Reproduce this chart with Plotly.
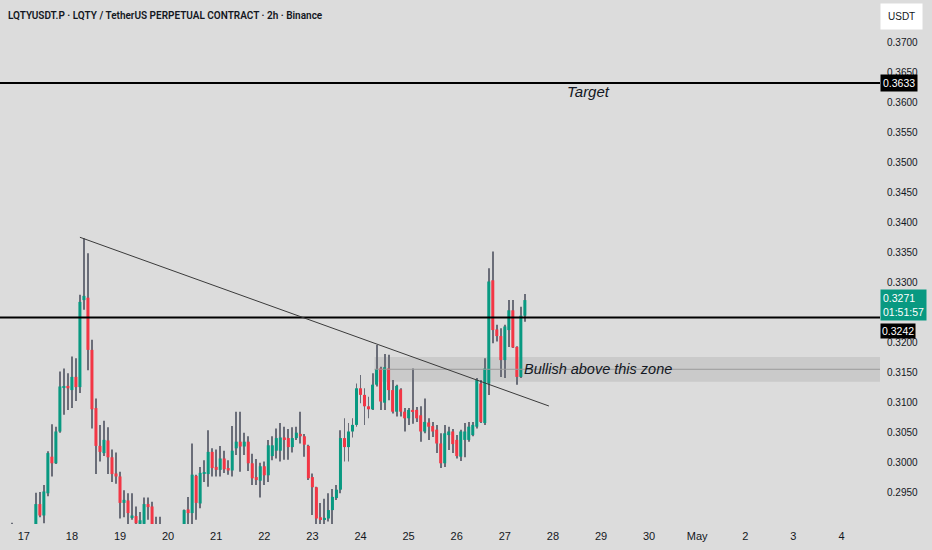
import pandas as pd
import plotly.graph_objects as go

# 2h candles, first one opens Apr 16 14:00 (index -5 relative to Apr 17 00:00)
start = "2024-04-16 14:00"
opens = [0.2880, 0.2885, 0.2878, 0.2886, 0.2870, 0.2875, 0.2868, 0.2880,
         0.2885, 0.2931, 0.2912, 0.2949, 0.3010, 0.2999, 0.3052, 0.3126, 0.3128, 0.3121,
         0.3143, 0.3126, 0.3271, 0.3275, 0.3188, 0.3091, 0.3028, 0.3016, 0.3037, 0.3009,
         0.2982, 0.2977, 0.2933, 0.2937, 0.2909, 0.2911, 0.2898, 0.2898, 0.2931, 0.2927,
         0.2895, 0.2888, 0.2880, 0.2872, 0.2868, 0.2875, 0.2882, 0.2895, 0.2922, 0.2916,
         0.2978, 0.2932, 0.2982, 0.2981, 0.3018, 0.2993, 0.2988, 0.3007, 0.2991, 0.2987,
         0.3024, 0.3035, 0.3027, 0.3035, 0.2999, 0.2976, 0.2970, 0.2994, 0.2979, 0.3011,
         0.3020, 0.3020, 0.3042, 0.3041, 0.3026, 0.3041, 0.3048, 0.3044, 0.3028, 0.2976,
         0.2959, 0.2909, 0.2906, 0.2907, 0.2921, 0.2941, 0.2955, 0.3041, 0.3026, 0.3052,
         0.3063, 0.3124, 0.3113, 0.3094, 0.3089, 0.3130, 0.3157, 0.3100, 0.3157, 0.3121,
         0.3085, 0.3122, 0.3085, 0.3074, 0.3088, 0.3088, 0.3079, 0.3052, 0.3067, 0.3061,
         0.3055, 0.3032, 0.2999, 0.3046, 0.3052, 0.3038, 0.3010, 0.3038, 0.3038, 0.3046,
         0.3060, 0.3132, 0.3066, 0.3132, 0.3304, 0.3222, 0.3211, 0.3171, 0.3221, 0.3254,
         0.3193, 0.3143, 0.3245]
highs = [0.2892, 0.2894, 0.2900, 0.2895, 0.2888, 0.2890, 0.2889, 0.2893,
         0.2950, 0.2951, 0.2963, 0.3019, 0.3064, 0.3060, 0.3152, 0.3157, 0.3149, 0.3177,
         0.3174, 0.3280, 0.3374, 0.3349, 0.3205, 0.3107, 0.3063, 0.3070, 0.3059, 0.3022,
         0.3017, 0.2985, 0.2954, 0.2949, 0.2949, 0.2927, 0.2918, 0.2942, 0.2942, 0.2935,
         0.2910, 0.2910, 0.2892, 0.2890, 0.2886, 0.2893, 0.2895, 0.2922, 0.2943, 0.3032,
         0.2980, 0.2993, 0.3004, 0.3054, 0.3024, 0.3022, 0.3028, 0.3020, 0.3004, 0.3061,
         0.3085, 0.3085, 0.3050, 0.3044, 0.3015, 0.3006, 0.3000, 0.3002, 0.3038, 0.3044,
         0.3057, 0.3066, 0.3060, 0.3056, 0.3059, 0.3060, 0.3085, 0.3048, 0.3030, 0.2982,
         0.2960, 0.2933, 0.2940, 0.2949, 0.2956, 0.2963, 0.3054, 0.3074, 0.3066, 0.3074,
         0.3132, 0.3146, 0.3124, 0.3110, 0.3149, 0.3196, 0.3160, 0.3181, 0.3180, 0.3138,
         0.3130, 0.3124, 0.3091, 0.3091, 0.3157, 0.3093, 0.3094, 0.3107, 0.3074, 0.3068,
         0.3063, 0.3049, 0.3063, 0.3060, 0.3056, 0.3046, 0.3055, 0.3066, 0.3068, 0.3068,
         0.3141, 0.3138, 0.3174, 0.3324, 0.3352, 0.3230, 0.3224, 0.3230, 0.3271, 0.3271,
         0.3194, 0.3260, 0.3281]
lows = [0.2870, 0.2872, 0.2868, 0.2862, 0.2858, 0.2860, 0.2857, 0.2870,
        0.2870, 0.2909, 0.2899, 0.2944, 0.2977, 0.2998, 0.3050, 0.3080, 0.3088, 0.3091,
        0.3103, 0.3116, 0.3255, 0.3154, 0.3057, 0.2981, 0.3002, 0.3011, 0.2981, 0.2968,
        0.2965, 0.2907, 0.2909, 0.2898, 0.2905, 0.2890, 0.2890, 0.2888, 0.2905, 0.2885,
        0.2870, 0.2865, 0.2860, 0.2855, 0.2852, 0.2860, 0.2866, 0.2885, 0.2890, 0.2890,
        0.2905, 0.2924, 0.2968, 0.2960, 0.2977, 0.2977, 0.2977, 0.2983, 0.2980, 0.2977,
        0.3013, 0.2985, 0.3013, 0.2986, 0.2963, 0.2963, 0.2942, 0.2963, 0.2968, 0.3004,
        0.3007, 0.3002, 0.3005, 0.3005, 0.3017, 0.3038, 0.3032, 0.3010, 0.2971, 0.2913,
        0.2895, 0.2890, 0.2890, 0.2902, 0.2892, 0.2938, 0.2949, 0.3002, 0.3002, 0.3042,
        0.3060, 0.3099, 0.3063, 0.3074, 0.3088, 0.3127, 0.3088, 0.3088, 0.3104, 0.3082,
        0.3077, 0.3077, 0.3052, 0.3063, 0.3065, 0.3068, 0.3035, 0.3049, 0.3038, 0.3043,
        0.3016, 0.2991, 0.2993, 0.3021, 0.3016, 0.3007, 0.3003, 0.3009, 0.3035, 0.3044,
        0.3057, 0.3066, 0.3063, 0.3113, 0.3199, 0.3202, 0.3143, 0.3141, 0.3193, 0.3191,
        0.3130, 0.3141, 0.3235]
closes = [0.2885, 0.2878, 0.2886, 0.2870, 0.2875, 0.2868, 0.2880, 0.2885,
          0.2931, 0.2912, 0.2952, 0.3016, 0.2999, 0.3052, 0.3127, 0.3127, 0.3124, 0.3143,
          0.3126, 0.3268, 0.3278, 0.3188, 0.3089, 0.3028, 0.3018, 0.3038, 0.3009, 0.2981,
          0.2977, 0.2933, 0.2938, 0.2916, 0.2912, 0.2899, 0.2904, 0.2931, 0.2926, 0.2897,
          0.2888, 0.2880, 0.2872, 0.2868, 0.2875, 0.2882, 0.2890, 0.2921, 0.2916, 0.2980,
          0.2933, 0.2983, 0.2984, 0.3018, 0.2991, 0.2988, 0.3007, 0.2989, 0.2987, 0.3020,
          0.3035, 0.3027, 0.3035, 0.2999, 0.2974, 0.2971, 0.2994, 0.2979, 0.3029, 0.3029,
          0.3041, 0.3042, 0.3039, 0.3026, 0.3041, 0.3050, 0.3044, 0.3030, 0.2974, 0.2959,
          0.2907, 0.2906, 0.2908, 0.2921, 0.2943, 0.2955, 0.3041, 0.3026, 0.3052, 0.3063,
          0.3124, 0.3113, 0.3094, 0.3089, 0.3130, 0.3156, 0.3102, 0.3159, 0.3121, 0.3085,
          0.3128, 0.3085, 0.3074, 0.3088, 0.3086, 0.3074, 0.3052, 0.3068, 0.3060, 0.3052,
          0.3032, 0.2999, 0.3049, 0.3052, 0.3031, 0.3011, 0.3052, 0.3052, 0.3060, 0.3063,
          0.3138, 0.3068, 0.3157, 0.3302, 0.3221, 0.3211, 0.3171, 0.3227, 0.3254, 0.3192,
          0.3143, 0.3245, 0.3271]

day_ticks = ["2024-04-%02d" % d for d in range(17, 31)] + ["2024-05-%02d" % d for d in range(1, 5)]
day_text = [str(d) for d in range(17, 31)] + ["May", "2", "3", "4"]
# 0.3250 sits under the last-price label in the original, so it is not listed
price_ticks = [0.2950, 0.3000, 0.3050, 0.3100, 0.3150, 0.3200, 0.3300, 0.3350,
               0.3400, 0.3450, 0.3500, 0.3550, 0.3600, 0.3650, 0.3700]

target = 0.3633
support = 0.3242
last_price = 0.3271
trend_pts = [("2024-04-18 04:00", 0.33757), ("2024-04-27 22:00", 0.30945)]
zone = (0.3135, 0.3176, 0.31557)

UP = "#089981"
DOWN = "#F23645"
WICK = "#6a6d78"
BG = "#dcdcdc"
TXT = "#131722"

times = pd.date_range(start, periods=len(opens), freq="2h")

base = [min(o, c) for o, c in zip(opens, closes)]
height = [max(abs(c - o), 0.00006) for o, c in zip(opens, closes)]
colors = [UP if c >= o else DOWN for o, c in zip(opens, closes)]
wick_len = [h - l for h, l in zip(highs, lows)]

fig = go.Figure()
# wicks first, bodies drawn over them
fig.add_trace(go.Bar(x=times, y=wick_len, base=lows, width=1.7e6,
                     marker=dict(color=WICK, line=dict(width=0)), showlegend=False,
                     hoverinfo="skip"))
fig.add_trace(go.Bar(x=times, y=height, base=base, width=5.4e6,
                     marker=dict(color=colors, line=dict(width=0)), showlegend=False))

x_left = pd.Timestamp("2024-04-16 12:07:30")
x_right = pd.Timestamp("2024-05-04 19:12")

# zone + helper line
fig.add_shape(type="rect", x0="2024-04-24 07:00", x1=x_right, y0=zone[0], y1=zone[1],
              fillcolor="rgba(140,140,140,0.22)", line=dict(width=0), layer="below")
fig.add_shape(type="line", x0="2024-04-24 07:00", x1=x_right, y0=zone[2], y1=zone[2],
              line=dict(color="#9a9a9a", width=1))
# horizontal levels
for lv in (target, support):
    fig.add_shape(type="line", xref="paper", x0=0, x1=1, y0=lv, y1=lv,
                  line=dict(color="#000000", width=2))
# trend line
fig.add_shape(type="line", x0=trend_pts[0][0], y0=trend_pts[0][1],
              x1=trend_pts[1][0], y1=trend_pts[1][1], line=dict(color="#3a3a3a", width=1))

fig.add_annotation(text="<i>Target</i>", x="2024-04-28 18:00", y=0.3618, showarrow=False,
                   font=dict(size=15, color=TXT, family="Liberation Sans"))
fig.add_annotation(text="<i>Bullish above this zone</i>", x="2024-04-27 08:30", y=zone[2],
                   xanchor="left", showarrow=False,
                   font=dict(size=14.5, color=TXT, family="Liberation Sans"))

fig.add_annotation(text="LQTYUSDT.P · LQTY / TetherUS PERPETUAL CONTRACT · 2h · Binance",
                   xref="paper", yref="paper", x=0.007, y=0.971, xanchor="left",
                   yanchor="middle", showarrow=False,
                   font=dict(size=10, color=TXT, family="Roboto", weight=600))

# price scale labels
fig.add_annotation(text="USDT", xref="paper", yref="paper", x=1.025, y=0.969,
                   xanchor="center", yanchor="middle", showarrow=False,
                   bgcolor="#ffffff", borderpad=7, font=dict(size=10, color=TXT))
fig.add_annotation(text="%.4f" % target, xref="paper", x=1.0, y=target, xanchor="left",
                   showarrow=False, bgcolor="#000000", borderpad=2,
                   font=dict(size=10.5, color="#ffffff"))
fig.add_annotation(text="%.4f<br>01:51:57" % last_price, xref="paper", x=1.0, y=0.32625,
                   xanchor="left", showarrow=False, bgcolor=UP, borderpad=2, align="left",
                   font=dict(size=10.5, color="#ffffff"))
fig.add_annotation(text="%.4f" % support, xref="paper", x=1.0, y=0.32195, xanchor="left",
                   showarrow=False, bgcolor="#000000", borderpad=1,
                   font=dict(size=10.5, color="#ffffff"))

fig.update_layout(
    width=932, height=550,
    margin=dict(l=0, r=52, t=0, b=26),
    paper_bgcolor=BG, plot_bgcolor=BG,
    barmode="overlay",
    font=dict(family="Liberation Sans", color=TXT),
    xaxis=dict(type="date", range=[x_left, x_right], showgrid=False, zeroline=False,
               tickvals=day_ticks, ticktext=day_text, ticks="", ticklabelstandoff=4,
               tickfont=dict(size=11, color=TXT), fixedrange=True),
    yaxis=dict(side="right", range=[0.28978, 0.37712], showgrid=False, zeroline=False,
               tickvals=price_ticks, tickformat=".4f", ticks="", ticklabelstandoff=6,
               tickfont=dict(size=10, color=TXT)),
)

fig.write_html("out.html", config={"displayModeBar": False},
               post_script="document.body.style.margin='0';")
